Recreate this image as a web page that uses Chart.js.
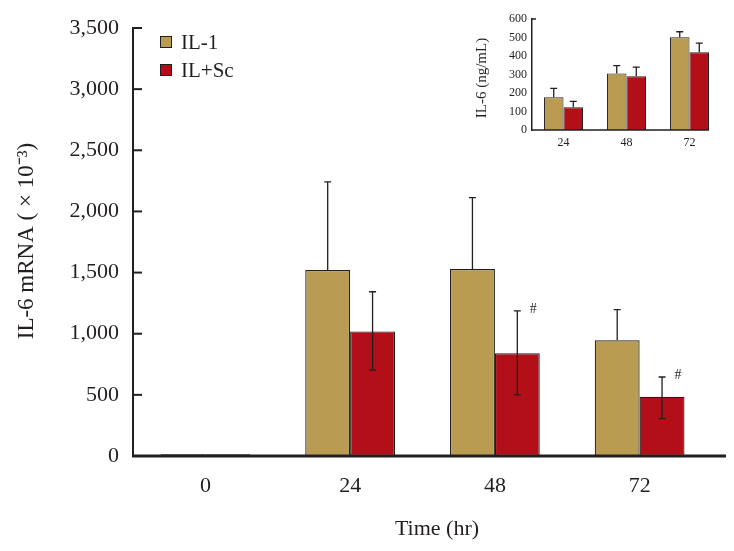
<!DOCTYPE html>
<html>
<head>
<meta charset="utf-8">
<script src="https://cdn.jsdelivr.net/npm/chart.js@4.4.0/dist/chart.umd.min.js"></script>
<style>
  body { margin: 0; background: #fff; }
  #marco { position: relative; width: 734px; height: 551px; }
  #principal { position: absolute; left: 0; top: 0; }
  #recuadro { position: absolute; left: 460px; top: 0; }
</style>
</head>
<body>
<div id="marco">
  <canvas id="principal" width="734" height="551"></canvas>
  <canvas id="recuadro" width="274" height="160"></canvas>
</div>
<script>
// Datos principales: IL-6 mRNA (x10^-3)
const horas = ['0', '24', '48', '72'];
const il1 = [14, 1521, 1529, 946];
const ilSc = [14, 1019, 840, 484];
const il1ErrAlto = [null, 2242, 2113, 1197];
const ilScErrAlto = [null, 1343, 1186, 646];
const ilScErrBajo = [null, 703, 500, 306];
const marcas = ['', '', '#', '#'];

// Recuadro: IL-6 (ng/mL)
const horasRec = ['24', '48', '72'];
const il1Rec = [177, 306, 501];
const ilScRec = [123, 290, 420];
const il1RecErr = [225, 348, 531];
const ilScRecErr = [155, 340, 470];

const fuente = "'Liberation Serif', 'Times New Roman', serif";
const tinta = '#231f20';
const colorIL1 = '#b99c52';
const colorSc = '#b20f18';

// Barras de error (solo se dibujan donde hay valor)
function dibujarErrores(chart, idx, altos, bajos, cap) {
  const ctx = chart.ctx;
  const y = chart.scales.y;
  const meta = chart.getDatasetMeta(idx);
  const valores = chart.data.datasets[idx].data;
  ctx.save();
  ctx.strokeStyle = tinta;
  ctx.lineWidth = 1.3;
  meta.data.forEach((barra, j) => {
    if (altos[j] == null) return;
    const x = barra.x;
    const yAlto = y.getPixelForValue(altos[j]);
    const yBajo = bajos && bajos[j] != null ? y.getPixelForValue(bajos[j]) : y.getPixelForValue(valores[j]);
    ctx.beginPath();
    ctx.moveTo(x, yAlto); ctx.lineTo(x, yBajo);
    ctx.moveTo(x - cap, yAlto); ctx.lineTo(x + cap, yAlto);
    if (bajos && bajos[j] != null) { ctx.moveTo(x - cap, yBajo); ctx.lineTo(x + cap, yBajo); }
    ctx.stroke();
  });
  ctx.restore();
}

const extrasPrincipal = {
  id: 'extrasPrincipal',
  afterDatasetsDraw(chart) {
    const ctx = chart.ctx;
    const area = chart.chartArea;
    const y = chart.scales.y;

    dibujarErrores(chart, 0, il1ErrAlto, null, 3.5);
    dibujarErrores(chart, 1, ilScErrAlto, ilScErrBajo, 3.5);

    // marcas de significancia
    ctx.save();
    ctx.fillStyle = tinta;
    ctx.font = '14px ' + fuente;
    ctx.textAlign = 'center';
    ctx.textBaseline = 'middle';
    chart.getDatasetMeta(1).data.forEach((barra, j) => {
      if (!marcas[j]) return;
      ctx.fillText(marcas[j], barra.x + 16, y.getPixelForValue(ilScErrAlto[j]) - 2);
    });

    // eje x prolongado
    ctx.strokeStyle = tinta;
    ctx.lineWidth = 3;
    ctx.beginPath();
    ctx.moveTo(area.left - 1, area.bottom);
    ctx.lineTo(726, area.bottom);
    ctx.stroke();

    // marcas del eje y hacia dentro
    ctx.lineWidth = 2;
    y.ticks.forEach(t => {
      if (t.value === 0) return;
      const py = y.getPixelForValue(t.value);
      ctx.beginPath();
      ctx.moveTo(area.left, py);
      ctx.lineTo(area.left + 9, py);
      ctx.stroke();
    });

    // leyenda
    ctx.font = '21px ' + fuente;
    ctx.textAlign = 'left';
    ctx.textBaseline = 'middle';
    ctx.lineWidth = 1;
    chart.data.datasets.forEach((ds, i) => {
      const py = 42 + i * 28;
      ctx.fillStyle = ds.backgroundColor;
      ctx.fillRect(160.5, py - 5.5, 11, 11);
      ctx.strokeStyle = tinta;
      ctx.strokeRect(160.5, py - 5.5, 11, 11);
      ctx.fillStyle = tinta;
      ctx.fillText(ds.label, 181, py + 1);
    });

    // títulos de ejes
    ctx.textAlign = 'center';
    ctx.font = '22px ' + fuente;
    ctx.fillText('Time (hr)', 437, 529);
    ctx.font = '23px ' + fuente;
    ctx.translate(27, 241);
    ctx.rotate(-Math.PI / 2);
    ctx.fillText('IL-6 mRNA ( × 10⁻³)', 0, 0);
    ctx.restore();
  }
};

const principal = new Chart(document.getElementById('principal'), {
  type: 'bar',
  data: {
    labels: horas,
    datasets: [
      { label: 'IL-1', data: il1, backgroundColor: colorIL1, borderColor: tinta, borderWidth: 1.2, borderSkipped: false, categoryPercentage: 0.62, barPercentage: 1 },
      { label: 'IL+Sc', data: ilSc, backgroundColor: colorSc, borderColor: tinta, borderWidth: 1.2, borderSkipped: false, categoryPercentage: 0.62, barPercentage: 1 }
    ]
  },
  options: {
    responsive: false,
    animation: false,
    layout: { padding: { top: 28, right: 22, left: 0, bottom: 0 } },
    plugins: { legend: { display: false }, tooltip: { enabled: false } },
    scales: {
      x: {
        grid: { display: false, drawTicks: false },
        border: { display: false },
        ticks: { font: { family: fuente, size: 22 }, color: tinta, padding: 17 },
        afterFit: s => { s.height = 95; }
      },
      y: {
        min: 0, max: 3500,
        grid: { display: false, drawTicks: false },
        border: { display: true, color: tinta, width: 2 },
        ticks: { stepSize: 500, font: { family: fuente, size: 22 }, color: tinta, padding: 14,
          callback: v => v.toLocaleString('en-US') },
        afterFit: s => { s.width = 133; }
      }
    }
  },
  plugins: [extrasPrincipal]
});

const extrasRecuadro = {
  id: 'extrasRecuadro',
  afterDatasetsDraw(chart) {
    const ctx = chart.ctx;
    const area = chart.chartArea;
    dibujarErrores(chart, 0, il1RecErr, null, 3.5);
    dibujarErrores(chart, 1, ilScRecErr, null, 3.5);

    const ultimas = chart.getDatasetMeta(1).data;
    const fin = ultimas[ultimas.length - 1];
    ctx.save();
    ctx.strokeStyle = tinta;
    ctx.lineWidth = 1.5;
    ctx.beginPath();
    ctx.moveTo(area.left, area.bottom);
    ctx.lineTo(fin.x + fin.width / 2, area.bottom);
    ctx.moveTo(area.left, area.top);
    ctx.lineTo(area.left + 4, area.top);
    ctx.stroke();

    ctx.fillStyle = tinta;
    ctx.font = '15px ' + fuente;
    ctx.textAlign = 'center';
    ctx.textBaseline = 'middle';
    ctx.translate(22, 78);
    ctx.rotate(-Math.PI / 2);
    ctx.fillText('IL-6 (ng/mL)', 0, 0);
    ctx.restore();
  }
};

const recuadro = new Chart(document.getElementById('recuadro'), {
  type: 'bar',
  data: {
    labels: horasRec,
    datasets: [
      { label: 'IL-1', data: il1Rec, backgroundColor: colorIL1, borderColor: tinta, borderWidth: 1, categoryPercentage: 0.62, barPercentage: 1 },
      { label: 'IL+Sc', data: ilScRec, backgroundColor: colorSc, borderColor: tinta, borderWidth: 1, categoryPercentage: 0.62, barPercentage: 1 }
    ]
  },
  options: {
    responsive: false,
    animation: false,
    layout: { padding: { top: 19, right: 13, left: 0, bottom: 0 } },
    plugins: { legend: { display: false }, tooltip: { enabled: false } },
    scales: {
      x: {
        grid: { display: false, drawTicks: false },
        border: { display: false },
        ticks: { font: { family: fuente, size: 12 }, color: tinta, padding: 6 },
        afterFit: s => { s.height = 30; }
      },
      y: {
        min: 0, max: 600,
        grid: { display: false, drawTicks: false },
        border: { display: true, color: tinta, width: 1.5 },
        ticks: { stepSize: 100, font: { family: fuente, size: 12 }, color: tinta, padding: 5 },
        afterFit: s => { s.width = 72; }
      }
    }
  },
  plugins: [extrasRecuadro]
});
</script>
</body>
</html>
